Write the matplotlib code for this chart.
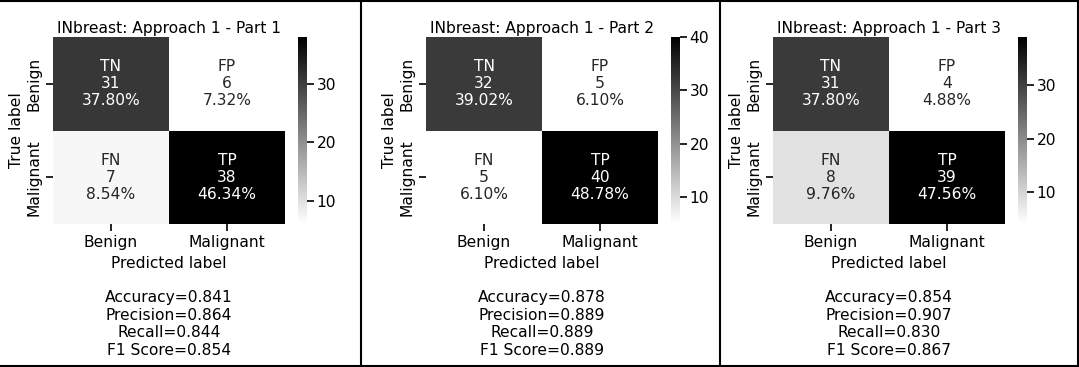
import matplotlib as mpl
mpl.use('Agg')
import matplotlib.pyplot as plt
from matplotlib.lines import Line2D
import numpy as np
import seaborn as sns

# confusion matrices: [[TN, FP], [FN, TP]]
titles = ['INbreast: Approach 1 - Part 1',
          'INbreast: Approach 1 - Part 2',
          'INbreast: Approach 1 - Part 3']
cm_part1 = [[31, 6], [7, 38]]
cm_part2 = [[32, 5], [5, 40]]
cm_part3 = [[31, 4], [8, 39]]
accuracy = [0.841, 0.878, 0.854]
precision = [0.864, 0.889, 0.907]
recall = [0.844, 0.889, 0.830]
f1_score = [0.854, 0.889, 0.867]
cell_names = ['TN', 'FP', 'FN', 'TP']
categories = ['Benign', 'Malignant']

W, H = 1079, 367
fig = plt.figure(figsize=(W / 100, H / 100), dpi=100)
fs = 11.2

# heatmap left edge (px) for each panel, colorbar sits 13px to the right
hm_left = [53, 426, 773]
hm_w, hm_top, hm_bot = 232, 37, 224

for i, cm in enumerate([cm_part1, cm_part2, cm_part3]):
    cm = np.array(cm)
    counts = cm.flatten()
    pcts = counts / counts.sum()
    labels = ['{}\n{}\n{:.2%}'.format(n, c, p) for n, c, p in zip(cell_names, counts, pcts)]
    labels = np.array(labels).reshape(2, 2)

    ax = fig.add_axes([hm_left[i] / W, 1 - hm_bot / H, hm_w / W, (hm_bot - hm_top) / H])
    cax = fig.add_axes([(hm_left[i] + hm_w + 13) / W, 1 - hm_bot / H, 9 / W, (hm_bot - hm_top) / H])
    sns.heatmap(cm, annot=labels, fmt='', cmap='binary', ax=ax, cbar_ax=cax,
                xticklabels=categories, yticklabels=categories,
                annot_kws={'fontsize': fs, 'linespacing': 1.15})
    cax.tick_params(labelsize=fs, length=5, width=1.2, pad=2)
    ax.tick_params(labelsize=fs, length=5, width=1.2, pad=3)
    ax.set_yticklabels(categories, rotation=90, va='center', fontsize=fs)
    ax.set_ylabel('True label', fontsize=fs, labelpad=2)
    stats = '\n\nAccuracy={:0.3f}\nPrecision={:0.3f}\nRecall={:0.3f}\nF1 Score={:0.3f}'.format(
        accuracy[i], precision[i], recall[i], f1_score[i])
    ax.set_xlabel('Predicted label' + stats, fontsize=fs, linespacing=1.2, labelpad=4)
    ax.set_title(titles[i], fontsize=fs, pad=3)

# panel frames
for x in [361 / W, 720 / W, 1077.5 / W]:
    fig.add_artist(Line2D([x, x], [0, 1], color='k', lw=1.5))
for y in [1 - 1 / H, 1.5 / H]:
    fig.add_artist(Line2D([0, 1], [y, y], color='k', lw=1.5))

plt.savefig('out.png', dpi=100)
plt.close()
